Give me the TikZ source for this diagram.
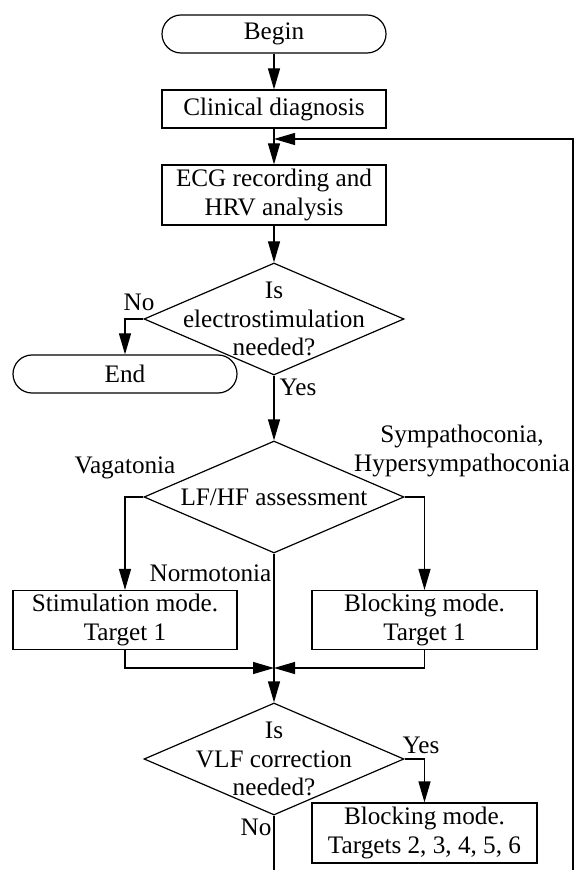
\documentclass[tikz,border=0pt]{standalone}
\usepackage{fontspec}
\setmainfont{Liberation Serif}
\tikzset{
every picture/.style={
line width=0.6pt
}}
\usetikzlibrary{shapes,arrows.meta}

\begin{document}
\begin{tikzpicture}[x=0.5pt, y=-0.5pt, >={Triangle[length=10.5pt,width=6pt]},
every node/.style = {font=\fontsize{12.6pt}{14.25pt}\selectfont},
block/.style = {rectangle, draw=black, align=center, inner sep=0pt, minimum width=112pt, minimum height=19pt},
term/.style = {block, rounded corners=9.5pt},
decision/.style = {diamond, draw=black, inner sep=0pt, minimum width=130pt, minimum height=56pt},
tag/.style = {inner sep=0pt, align=center}]
\useasboundingbox (0,0) rectangle (574,870);

\node[term] (begin) at (274,34) {Begin};
\node[block] (clin) at (274,109) {Clinical diagnosis};
\node[block, minimum height=30pt] (ecg) at (274,195) {ECG recording and\\HRV analysis};
\node[decision, label={[align=center]center:{Is\\electrostimulation\\needed?}}] (q1) at (274,319) {};
\node[term] (end) at (125,374) {End};

\node[decision, label={center:LF/HF assessment}] (q2) at (274,497) {};
\node[block, minimum height=29.5pt] (stim) at (125,620) {Stimulation mode.\\Target 1};
\node[block, minimum height=29.5pt, minimum width=112.5pt] (blk1) at (424.5,620) {Blocking mode.\\Target 1};

\node[decision, label={[align=center]center:{Is\\VLF correction\\needed?}}] (q3) at (274,759) {};
\node[block, minimum height=30pt, minimum width=112.5pt] (blk2) at (424.5,833) {Blocking mode.\\Targets 2, 3, 4, 5, 6};

% branch labels
\node[tag] (no1) at (139,302) {No};
\node[tag] (yes1) at (298,387) {Yes};
\node[tag] (vag) at (125,468) {Vagatonia};
\node[tag] (symp) at (462,451) {Sympathoconia,\\Hypersympathoconia};
\node[tag, anchor=east] (norm) at (272,573) {Normotonia};
\node[tag] (yes2) at (421,745) {Yes};
\node[tag] (no2) at (256,827) {No};

\coordinate (fb) at (274,139);
\coordinate (fbr) at (573,870);
\coordinate (mrg) at (274,668);
\coordinate (bot) at (274,870);

\draw [->] (begin) -- (clin);
\draw [->] (clin) -- (ecg);
\draw [->] (ecg) -- (q1);
\draw [->] (q1.west) -| (end);
\draw [->] (q1) -- (q2);
\draw [->] (q2.west) -| (stim);
\draw [->] (q2.east) -| (blk1);
\draw [->] (q2) -- (q3);
\draw [->] (stim) |- (mrg);
\draw [->] (blk1) |- (mrg);
\draw [->] (q3.east) -| (blk2);
\draw (q3) -- (bot);
\draw [->] (fbr) |- (fb);
\end{tikzpicture}
\end{document}
